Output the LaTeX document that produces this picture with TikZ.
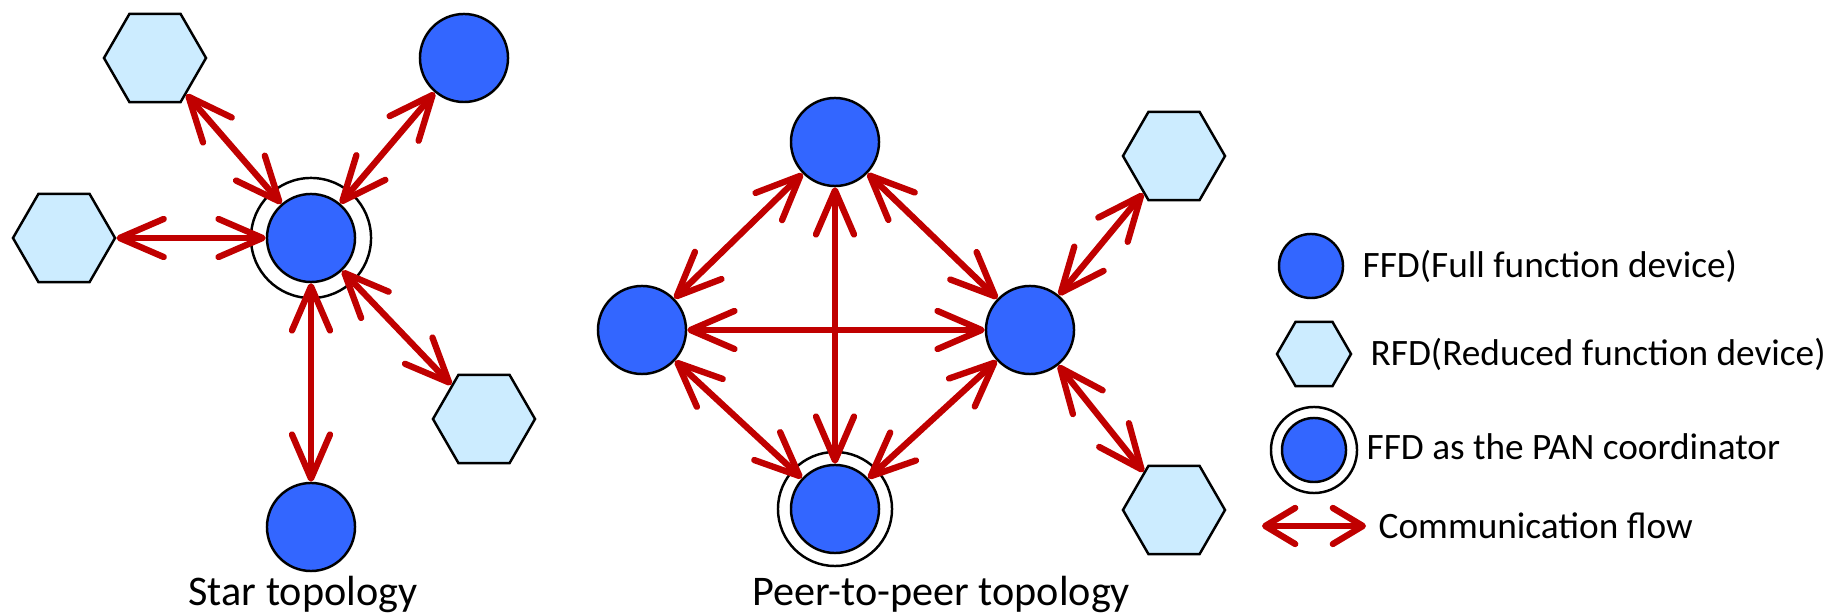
\documentclass[tikz,border=0pt]{standalone}
\usepackage{fontspec}
\setmainfont{Carlito}
\usetikzlibrary{arrows.meta,shapes.geometric}

\definecolor{ffdblue}{HTML}{3366FF}
\definecolor{rfdblue}{HTML}{CCECFF}
\definecolor{flowred}{HTML}{C00000}

\tikzset{
  ffd/.style={circle, draw, line width=0.7pt, fill=ffdblue, minimum size=0.88cm, inner sep=0pt},
  rfd/.style={regular polygon, regular polygon sides=6, draw, line width=0.7pt, fill=rfdblue, minimum size=1.02cm, inner sep=0pt},
  ring/.style={draw, line width=0.7pt},
  flow/.style={draw=flowred, line width=1.8pt,
    {Straight Barb[length=0.44cm,width=0.38cm,round]}-{Straight Barb[length=0.44cm,width=0.38cm,round]}},
  caption/.style={font=\fontsize{12}{14}\selectfont, anchor=base},
  legtext/.style={font=\fontsize{10.6}{13}\selectfont, anchor=west, inner sep=0pt},
}

\begin{document}
\begin{tikzpicture}[x=0.01cm, y=-0.01cm]
        \useasboundingbox (0,0) rectangle (1827,616);

        % star topology
        \node[ffd] (s0) at (311, 238) {};
        \draw[ring] (s0.center) circle (0.6cm);
        \node[rfd] (s1) at (155, 58) {};
        \node[ffd] (s2) at (464, 58) {};
        \node[rfd] (s3) at (64, 238) {};
        \node[rfd] (s4) at (484, 419) {};
        \node[ffd] (s5) at (311, 527) {};

        \draw[flow] (s0) -- (s1);
        \draw[flow] (s0) -- (s2);
        \draw[flow] (s0) -- (s3);
        \draw[flow] (s0) -- (s4);
        \draw[flow] (s0) -- (s5);

        % peer-to-peer topology
        \node[ffd] (p1) at (835, 142) {};
        \node[ffd] (p2) at (642, 330) {};
        \node[ffd] (p3) at (1030, 330) {};
        \node[ffd] (p0) at (835, 509) {};
        \draw[ring] (p0.center) circle (0.57cm);
        \node[rfd] (p4) at (1174, 156) {};
        \node[rfd] (p5) at (1174, 510) {};

        \draw[flow] (p1) -- (p2);
        \draw[flow] (p1) -- (p3);
        \draw[flow] (p1) -- (p0);
        \draw[flow] (p2) -- (p3);
        \draw[flow] (p2) -- (p0);
        \draw[flow] (p3) -- (p0);
        \draw[flow] (p3) -- (p4);
        \draw[flow] (p3) -- (p5);

        \node[caption] (startxt) at (303, 606) {Star topology};
        \node[caption] (peertxt) at (941, 606) {Peer-to-peer topology};

        % legend
        \node[ffd, minimum size=0.64cm] (l1) at (1311, 266) {};
        \node[rfd, minimum size=0.74cm] (l2) at (1314, 354) {};
        \node[ffd, minimum size=0.64cm] (l3) at (1314, 450) {};
        \draw[ring] (l3.center) circle (0.43cm);
        \coordinate (la) at (1262, 526);
        \coordinate (lb) at (1366, 526);
        \draw[draw=flowred, line width=1.8pt,
          {Straight Barb[length=0.3cm,width=0.36cm,round]}-{Straight Barb[length=0.3cm,width=0.36cm,round]}] (la) -- (lb);

        \node[legtext] (t1) at (1362, 266) {FFD(Full function device)};
        \node[legtext] (t2) at (1370, 354) {RFD(Reduced function device)};
        \node[legtext] (t3) at (1366, 447) {FFD as the PAN coordinator};
        \node[legtext] (t4) at (1378, 526) {Communication flow};

\end{tikzpicture}
\end{document}
